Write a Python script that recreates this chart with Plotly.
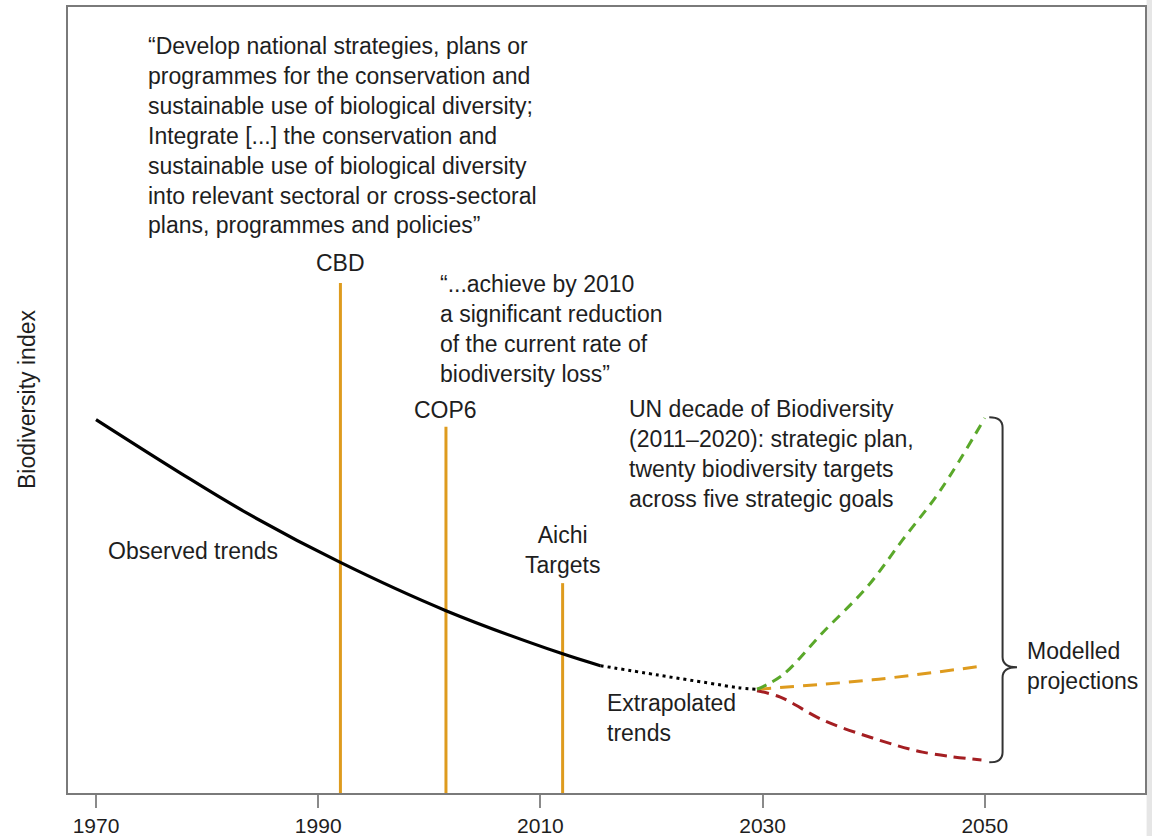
import plotly.graph_objects as go

# ---------------- data ----------------
obs_years = [1970, 1977.6, 1983.6, 1991.9, 2001.5, 2011.8, 2015.4]
obs_values = [47.5, 40.7, 35.6, 29.4, 23.2, 17.8, 16.2]

extrap_years = [2015.4, 2020.6, 2025.1, 2027.8, 2029.5]
extrap_values = [16.2, 15.0, 14.0, 13.4, 13.2]

green_years = [2029.5, 2031.8, 2035.4, 2039.4, 2042.6, 2046.0, 2050.0]
green_values = [13.2, 15.0, 20.4, 26.2, 32.2, 38.5, 47.7]

orange_years = [2029.5, 2039.9, 2050.0]
orange_values = [13.2, 14.4, 16.2]

red_years = [2029.5, 2031.6, 2035.4, 2039.9, 2044.4, 2049.7]
red_values = [13.0, 12.2, 9.3, 7.0, 5.2, 4.2]

event_names = ["CBD", "COP6", "Aichi<br>Targets"]
event_years = [1992, 2001.5, 2012]
event_heights = [64.9, 46.6, 26.7]
event_label_y = [67.4, 48.7, 30.9]

tick_years = [1970, 1990, 2010, 2030, 2050]
tick_labels = ["1970", "1990", "2010", "2030", "2050"]

quote_cbd = ("“Develop national strategies, plans or<br>programmes for the conservation and<br>"
             "sustainable use of biological diversity;<br>Integrate [...] the conservation and<br>"
             "sustainable use of biological diversity<br>into relevant sectoral or cross-sectoral<br>"
             "plans, programmes and policies”")
quote_cop6 = "“...achieve by 2010<br>a significant reduction<br>of the current rate of<br>biodiversity loss”"
quote_un = ("UN decade of Biodiversity<br>(2011–2020): strategic plan,<br>"
            "twenty biodiversity targets<br>across five strategic goals")

# ---------------- styling ----------------
ORANGE = "#DE9B1E"
GREEN = "#5AA82A"
RED = "#A41E22"
TXT = "#1e1e1e"
FONT = "Liberation Sans, Arial, sans-serif"
FS = 23

fig = go.Figure()

# vertical event lines
for yr, h in zip(event_years, event_heights):
    fig.add_trace(go.Scatter(x=[yr, yr], y=[0, h], mode="lines",
                             line=dict(color=ORANGE, width=3), hoverinfo="skip"))

# observed trend
fig.add_trace(go.Scatter(x=obs_years, y=obs_values, mode="lines",
                         line=dict(color="#000000", width=3.2, shape="spline", smoothing=1.0),
                         name="Observed"))
# extrapolated trend
fig.add_trace(go.Scatter(x=extrap_years, y=extrap_values, mode="lines",
                         line=dict(color="#000000", width=3, dash="3px,4px", shape="spline"),
                         name="Extrapolated"))
# projections
fig.add_trace(go.Scatter(x=orange_years, y=orange_values, mode="lines",
                         line=dict(color=ORANGE, width=3, dash="14px,9px", shape="spline")))
fig.add_trace(go.Scatter(x=red_years, y=red_values, mode="lines",
                         line=dict(color=RED, width=3, dash="12px,7px", shape="spline")))
fig.add_trace(go.Scatter(x=green_years, y=green_values, mode="lines",
                         line=dict(color=GREEN, width=3, dash="10px,7px", shape="spline")))

ann = []
def txt(x, y, text, xanchor="left", align="left", yanchor="middle"):
    ann.append(dict(x=x, y=y, xref="x", yref="y", text=text, showarrow=False,
                    xanchor=xanchor, yanchor=yanchor, align=align,
                    font=dict(family=FONT, size=FS, color=TXT)))

for name, yr, ly in zip(event_names, event_years, event_label_y):
    txt(yr, ly, name, xanchor="center", align="center")

txt(1974.5, 83.6, quote_cbd)
txt(2000.8, 59.0, quote_cop6)
txt(2017.8, 43.1, quote_un)
txt(1970.9, 30.8, "Observed trends")
txt(2015.8, 9.5, "Extrapolated<br>trends")
txt(2053.6, 16.2, "Modelled<br>projections")

# y-axis title
ann.append(dict(x=0, y=0.5, xref="paper", yref="paper", xshift=-41, text="Biodiversity index",
                textangle=-90, showarrow=False, xanchor="center", yanchor="middle",
                font=dict(family=FONT, size=FS, color=TXT)))

# curly brace for the modelled projections
bx0, bx1, bx2 = 2050.4, 2051.6, 2052.9
yt, ym, yb = 47.8, 16.0, 3.9
c = 1.3
brace = (f"M {bx0},{yt} Q {bx1},{yt} {bx1},{yt - c} L {bx1},{ym + c} "
         f"Q {bx1},{ym} {bx2},{ym} Q {bx1},{ym} {bx1},{ym - c} "
         f"L {bx1},{yb + c} Q {bx1},{yb} {bx0},{yb}")

shapes = [
    dict(type="path", path=brace, xref="x", yref="y",
         line=dict(color="#333333", width=2)),
    # light grey page edge (right)
    dict(type="rect", xref="paper", yref="paper", x0=1.0015, x1=1.02, y0=-0.08, y1=1.02,
         fillcolor="#e6e6e6", line=dict(width=0), layer="below"),
]

fig.update_layout(
    width=1152, height=836, autosize=False,
    margin=dict(l=68, r=7, t=7, b=43, autoexpand=False),
    paper_bgcolor="white", plot_bgcolor="white",
    showlegend=False,
    annotations=ann, shapes=shapes,
    font=dict(family=FONT, size=FS, color=TXT),
)
fig.update_xaxes(range=[1967.48, 2064.42], tickmode="array", tickvals=tick_years, ticktext=tick_labels,
                 ticks="outside", ticklen=13, tickwidth=1.5, tickcolor="#8a8a8a", automargin=False,
                 showgrid=False, zeroline=False, showline=True, linecolor="#7a7a7a", linewidth=2,
                 mirror=True, tickfont=dict(family=FONT, size=21, color=TXT))
fig.update_yaxes(range=[0, 100], showticklabels=False, ticks="", showgrid=False, zeroline=False,
                 automargin=False,
                 showline=True, linecolor="#7a7a7a", linewidth=2, mirror=True)

fig.write_html("out.html", config={"displayModeBar": False},
               post_script="document.body.style.margin='0';document.body.style.overflow='hidden';")
